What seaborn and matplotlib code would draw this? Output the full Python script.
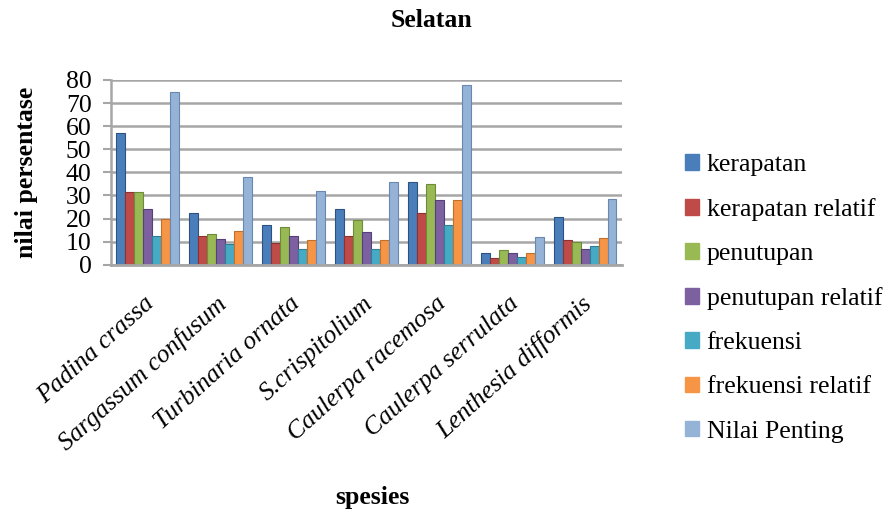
import pandas as pd
import matplotlib.pyplot as plt
import matplotlib.transforms as mtransforms
import seaborn as sns
from matplotlib.patches import Patch

species = ['Padina crassa', 'Sargassum confusum', 'Turbinaria ornata', 'S.crispitolium',
           'Caulerpa racemosa', 'Caulerpa serrulata', 'Lenthesia difformis']
series = ['kerapatan', 'kerapatan relatif', 'penutupan', 'penutupan relatif',
          'frekuensi', 'frekuensi relatif', 'Nilai Penting']

kerapatan = [57, 22.5, 17, 24, 36, 5, 20.5]
kerapatan_relatif = [31.5, 12.5, 9.5, 12.5, 22.5, 3, 10.5]
penutupan = [31.5, 13.5, 16.5, 19.5, 35, 6.5, 10]
penutupan_relatif = [24, 11, 12.5, 14, 28, 5, 7]
frekuensi = [12.5, 9, 7, 7, 17, 3.5, 8]
frekuensi_relatif = [20, 14.5, 10.5, 10.5, 28, 5, 11.5]
nilai_penting = [75, 38, 32, 36, 78, 12, 28.5]

colors = ['#4A7EBB', '#BE4B48', '#98B954', '#7D60A0', '#46AAC5', '#F69546', '#95B3D7']
edges = ['#2C5282', '#8C3230', '#6E8C38', '#56407A', '#2E7E96', '#C0702A', '#6A87B0']

rows = []
for name, vals in zip(series, [kerapatan, kerapatan_relatif, penutupan, penutupan_relatif,
                               frekuensi, frekuensi_relatif, nilai_penting]):
    for sp, v in zip(species, vals):
        rows.append({'spesies': sp, 'seri': name, 'nilai': v})
data = pd.DataFrame(rows)

plt.rcParams['font.family'] = ['Liberation Serif', 'DejaVu Serif']

fig = plt.figure(figsize=(8.88, 5.16), dpi=100)
ax = fig.add_axes([0.125, 0.487, 0.575, 0.358])

ax.set_axisbelow(True)
ax.yaxis.grid(True, color='#a6a6a6', linewidth=1.8)

sns.barplot(data=data, x='spesies', y='nilai', hue='seri', order=species,
            hue_order=series, palette=colors, width=0.86, ax=ax,
            legend=False, saturation=1)

for i, bar in enumerate(ax.patches[:len(series) * len(species)]):
    bar.set_edgecolor(edges[i // len(species)])
    bar.set_linewidth(0.8)

ax.set_ylim(0, 80)
ax.set_yticks(range(0, 81, 10))
ax.set_xlim(-0.5, len(species) - 0.5)
ax.tick_params(axis='y', labelsize=18.5, length=6, color='#a6a6a6', width=1.5, pad=8)
ax.tick_params(axis='x', length=0, pad=20)
ax.set_xticks(range(len(species)))
ax.set_xticklabels(species, rotation=42, ha='right', rotation_mode='anchor',
                   fontsize=18.5, style='italic')
shift = mtransforms.ScaledTranslation(-4 / 100, 0, fig.dpi_scale_trans)
for lbl in ax.get_xticklabels():
    lbl.set_transform(lbl.get_transform() + shift)

for side in ['top', 'right']:
    ax.spines[side].set_visible(False)
ax.spines['left'].set_color('#a6a6a6')
ax.spines['left'].set_linewidth(1.8)
ax.spines['bottom'].set_color('#a6a6a6')
ax.spines['bottom'].set_linewidth(2)

ax.set_xlabel('')
ax.set_ylabel('nilai persentase', fontsize=18.5, fontweight='bold')
ax.yaxis.set_label_coords(-0.143, 0.5)
fig.text(0.486, 0.961, 'Selatan', ha='center', va='center', fontsize=18.5, fontweight='bold')
fig.text(0.419, 0.035, 'spesies', ha='center', va='center', fontsize=18.5, fontweight='bold')

handles = [Patch(facecolor=c, edgecolor=c) for c in colors]
fig.legend(handles, series, loc='center left', bbox_to_anchor=(0.745, 0.422),
           frameon=False, fontsize=18.5, handlelength=0.55, handleheight=0.55,
           handletextpad=0.3, labelspacing=0.86)

fig.savefig('out.png', dpi=100)
